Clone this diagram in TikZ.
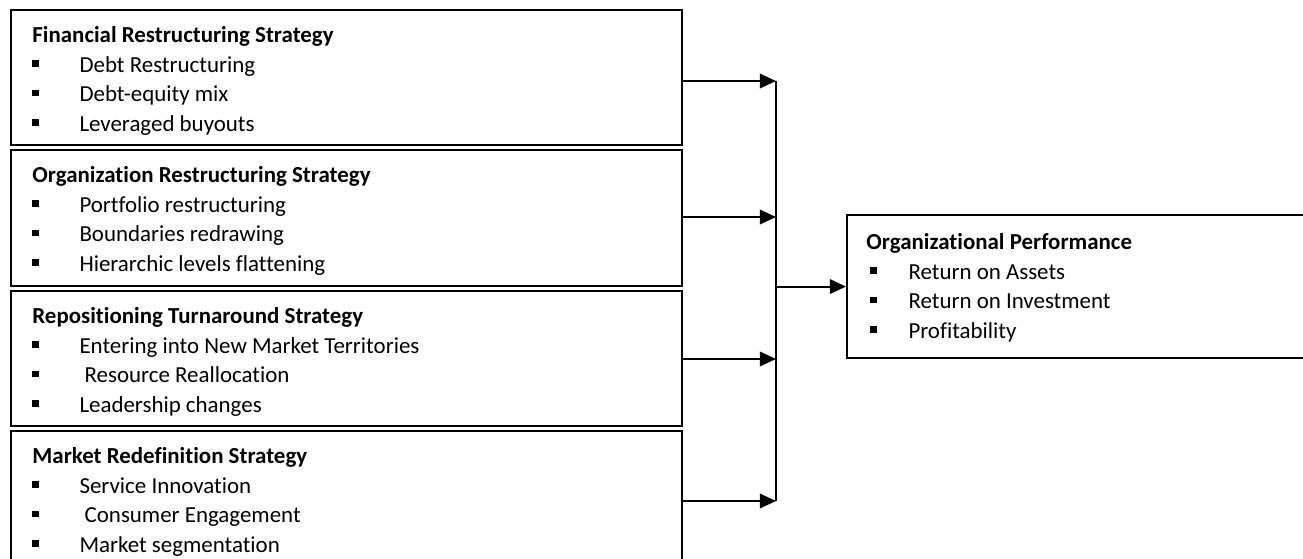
\documentclass[tikz,border=0pt]{standalone}
\usepackage{fontspec}
\setmainfont{Carlito}[Ligatures=NoCommon]
\usetikzlibrary{arrows.meta,positioning}

\newcommand{\sqbullet}{\rule[2.5pt]{3.2pt}{3.2pt}}
\newcommand{\bitem}[2][22.6pt]{\makebox[#1][l]{\sqbullet}#2}

\begin{document}
\begin{tikzpicture}[line join=miter,x=0.48pt,y=-0.48pt,
  >={Triangle[length=7.8pt,width=7pt]},
  stratbox/.style={draw,line width=1pt,inner sep=0pt,anchor=north west,minimum width=671*0.48pt},
  boxtext/.style={inner sep=0pt,align=left,font=\fontsize{11}{14.2}\selectfont},
  feed/.style={->,line width=1pt}]

\useasboundingbox (0,0) rectangle (1303,558);
\clip (0,0) rectangle (1303,558);

% strategy boxes
\node[stratbox,minimum height=135*0.48pt] (fin) at (10,9) {};
\node[stratbox,minimum height=136*0.48pt] (org) at (10,149) {};
\node[stratbox,minimum height=135*0.48pt] (repo) at (10,290) {};
\node[stratbox,minimum height=142*0.48pt] (mkt) at (10,430) {};
% performance box
\node[stratbox,minimum width=500*0.48pt,minimum height=143*0.48pt] (perf) at (846,214) {};

\begin{scope}
\clip (fin.north west) rectangle ([yshift=5.3pt]fin.south east);
\node[boxtext,below right=5.9pt and 10.56pt of fin.north west] (fintext) {\strut\textbf{Financial Restructuring Strategy}\\
  \bitem{Debt Restructuring}\\
  \bitem{Debt-equity mix}\\
  \bitem{Leveraged buyouts}};
\end{scope}

\begin{scope}
\clip (org.north west) rectangle ([yshift=5.3pt]org.south east);
\node[boxtext,below right=5.9pt and 10.56pt of org.north west] (orgtext) {\strut\textbf{Organization Restructuring Strategy}\\
  \bitem{Portfolio restructuring}\\
  \bitem{Boundaries redrawing}\\
  \bitem{Hierarchic levels flattening}};
\end{scope}

\begin{scope}
\clip (repo.north west) rectangle ([yshift=5.3pt]repo.south east);
\node[boxtext,below right=5.9pt and 10.56pt of repo.north west] (repotext) {\strut\textbf{Repositioning Turnaround Strategy}\\
  \bitem{Entering into New Market Territories}\\
  \bitem{\ Resource Reallocation}\\
  \bitem{Leadership changes}};
\end{scope}

\begin{scope}
\clip (mkt.north west) rectangle ([yshift=5.3pt]mkt.south east);
\node[boxtext,below right=5.9pt and 10.56pt of mkt.north west] (mkttext) {\strut\textbf{Market Redefinition Strategy}\\
  \bitem{Service Innovation}\\
  \bitem{\ Consumer Engagement}\\
  \bitem{Market segmentation}};
\end{scope}

\node[boxtext,below right=6.86pt and 9.6pt of perf.north west] (perftext) {\strut\textbf{Organizational Performance}\\
  \hspace*{1.9pt}\bitem[18.3pt]{Return on Assets}\\
  \hspace*{1.9pt}\bitem[18.3pt]{Return on Investment}\\
  \hspace*{1.9pt}\bitem[18.3pt]{Profitability}};

% connectors
\coordinate (j1) at (776,81);
\coordinate (j2) at (776,217);
\coordinate (j3) at (776,359);
\coordinate (j4) at (776,501);
\draw[feed] (fin.east |- j1) -- (j1);
\draw[feed] (org.east |- j2) -- (j2);
\draw[feed] (repo.east |- j3) -- (j3);
\draw[feed] (mkt.east |- j4) -- (j4);
\draw[line width=0.8pt] (j1) -- (j4);
\draw[feed] (perf.west -| j1) -- (perf.west);
\end{tikzpicture}
\end{document}
